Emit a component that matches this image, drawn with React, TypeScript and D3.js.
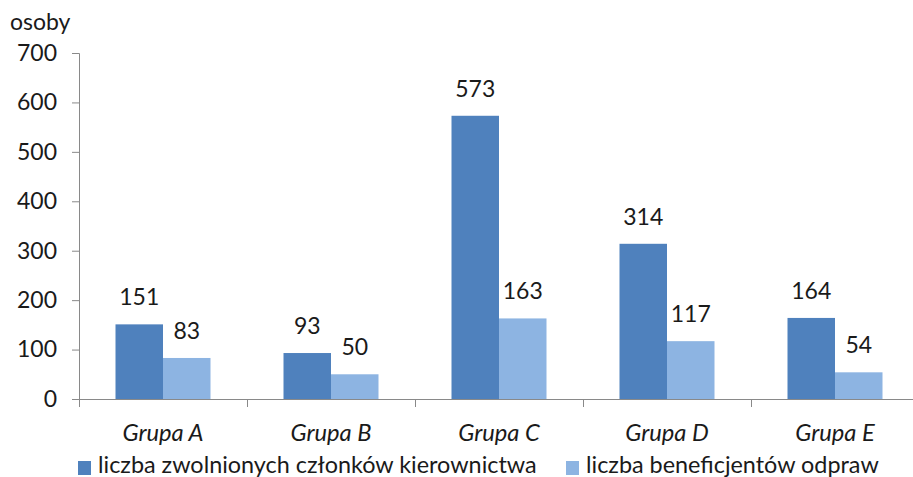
import React, { useRef, useEffect } from 'react';
import * as d3 from 'd3';

const categories = ['Grupa A', 'Grupa B', 'Grupa C', 'Grupa D', 'Grupa E'];
const seriesNames = ['liczba zwolnionych członków kierownictwa', 'liczba beneficjentów odpraw'];
const zwolnieni = [151, 93, 573, 314, 164];
const beneficjenci = [83, 50, 163, 117, 54];
const yTicks = [0, 100, 200, 300, 400, 500, 600, 700];
const colors = ['#4F81BD', '#8DB4E2'];

const FONT = 'Lato, "Open Sans", sans-serif';

const App = () => {
    const ref = useRef(null);

    useEffect(() => {
        const svg = d3.select(ref.current);
        svg.selectAll('*').remove();

        const left = 79, right = 919, top = 53, bottom = 399;
        const x = d3.scaleBand().domain(categories).range([left, right]);
        const groupW = 95;
        const x1 = d3.scaleBand().domain(['0', '1']).range([0, groupW]);
        const y = d3.scaleLinear().domain([0, 700]).range([bottom, top]);

        // y axis
        const yAxis = svg.append('g').attr('transform', `translate(${left},0)`)
            .call(d3.axisLeft(y).tickValues(yTicks).tickSize(7).tickPadding(15));
        yAxis.select('.domain').attr('stroke', '#898989').attr('d', `M-7,${top + 0.5}H0.5V${bottom}`);
        yAxis.selectAll('.tick line').attr('stroke', '#898989');
        yAxis.selectAll('.tick text').attr('font-family', FONT).attr('font-size', 23).attr('fill', '#1a1a1a');

        // x axis
        const xAxis = svg.append('g').attr('transform', `translate(0,${bottom})`)
            .call(d3.axisBottom(x).tickSize(0).tickPadding(0).tickFormat(() => ''));
        xAxis.select('.domain').attr('stroke', '#898989');
        xAxis.selectAll('.tick').remove();
        const bounds = categories.map(c => x(c)).concat([right]);
        svg.append('g').selectAll('line').data(bounds).join('line')
            .attr('x1', d => d + 0.5).attr('x2', d => d + 0.5)
            .attr('y1', bottom).attr('y2', bottom + 8)
            .attr('stroke', '#898989');

        svg.append('g').selectAll('text').data(categories).join('text')
            .attr('x', d => x(d) + x.bandwidth() / 2)
            .attr('y', 441)
            .attr('text-anchor', 'middle')
            .attr('font-family', FONT).attr('font-style', 'italic').attr('font-size', 23.7)
            .attr('fill', '#1a1a1a')
            .text(d => d);

        const series = [zwolnieni, beneficjenci];
        series.forEach((vals, si) => {
            const g = svg.append('g');
            const off = (x.bandwidth() - groupW) / 2;
            g.selectAll('rect').data(vals).join('rect')
                .attr('x', (d, i) => x(categories[i]) + off + x1(String(si)))
                .attr('y', d => y(d))
                .attr('width', x1.bandwidth())
                .attr('height', d => bottom - y(d))
                .attr('fill', colors[si]);
            g.selectAll('text').data(vals).join('text')
                .attr('x', (d, i) => x(categories[i]) + off + x1(String(si)) + x1.bandwidth() / 2)
                .attr('y', d => y(d) - 19)
                .attr('text-anchor', 'middle')
                .attr('font-family', FONT).attr('font-size', 23)
                .attr('fill', '#1a1a1a')
                .text(d => d);
        });

        // y label
        svg.append('text').attr('x', 10).attr('y', 30)
            .attr('font-family', FONT).attr('font-size', 23).attr('fill', '#1a1a1a')
            .text('osoby');

        // legend
        const legendX = [78, 566];
        const lg = svg.append('g').selectAll('g').data(seriesNames).join('g')
            .attr('transform', (d, i) => `translate(${legendX[i]},461)`);
        lg.append('rect').attr('width', 13).attr('height', 14).attr('fill', (d, i) => colors[i]);
        lg.append('text').attr('x', 20).attr('y', 12)
            .attr('font-family', FONT).attr('font-size', 23.4).attr('fill', '#1a1a1a')
            .text(d => d);
    }, []);

    return <svg ref={ref} width={913} height={477} style={{ position: 'absolute', left: 0, top: 0, background: '#fff' }}></svg>;
};

export default App;
